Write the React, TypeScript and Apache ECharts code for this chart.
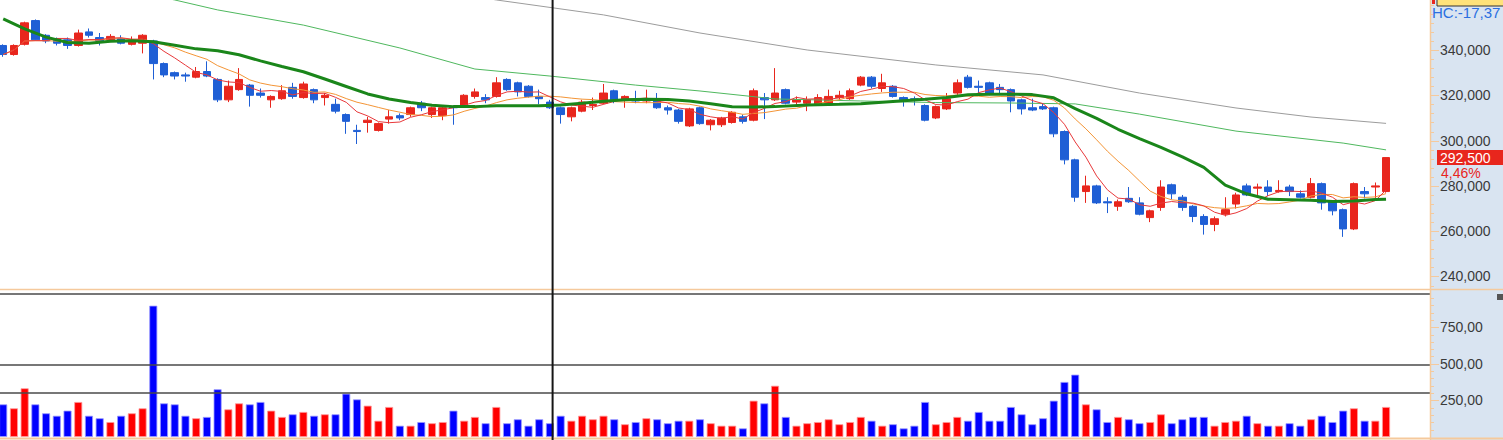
import React, { useEffect, useRef } from "react";
import * as echarts from "echarts";

// ---- price data (one entry per trading day) ----
const opens = [
  342000, 338000, 342500, 353000, 346500, 345000, 344500, 342000, 348000, 345500,
  344500, 345000, 342500, 343000, 344000, 334000, 330000, 329000, 328000, 330500,
  327000, 318000, 322500, 324500, 321000, 318000, 318500, 323500, 319000, 322500,
  319000, 316000, 311500, 304500, 308000, 304500, 309500, 311000, 311500, 316500,
  311500, 311000, 315000, 315000, 319500, 319000, 319500, 327000, 325500, 324000,
  319500, 317000, 314500, 310500, 313000, 315500, 316500, 322000, 318000, 318000,
  317500, 318000, 314500, 313500, 306500, 314500, 307000, 307000, 308000, 310500,
  309000, 319000, 318000, 322500, 317000, 316500, 316000, 316500, 319000, 318500,
  324500, 328000, 323000, 324000, 319000, 318500, 315500, 310000, 314000, 321000,
  328000, 324000, 325500, 323500, 322500, 318000, 314500, 315000, 314500, 304000,
  291500, 277500, 280000, 273000, 271000, 274500, 272500, 266000, 270500, 280500,
  275000, 271000, 266500, 263000, 267500, 272000, 280000, 279000, 279500, 277500,
  279500, 276500, 275000, 281000, 273000, 269500, 261000, 277500, 279500, 277500,
];
const closes = [
  338000, 342000, 352000, 344500, 344000, 343000, 342000, 347500, 346500, 344000,
  346000, 343000, 344500, 346500, 334000, 329000, 328500, 328500, 330500, 328500,
  318000, 324000, 327000, 320000, 320000, 319500, 322000, 319500, 325000, 318000,
  320000, 313000, 308500, 304000, 309000, 307500, 310500, 310000, 314500, 314500,
  314500, 314500, 314500, 320000, 321500, 318000, 325500, 322500, 321500, 319500,
  318500, 314500, 311500, 314500, 317000, 316000, 321000, 318000, 319500, 317500,
  318000, 314500, 313500, 308500, 314000, 307500, 309000, 310000, 312500, 308500,
  322000, 318000, 321000, 316500, 318000, 318000, 319000, 319500, 320000, 322000,
  328000, 324000, 325500, 319500, 318000, 318000, 309000, 315000, 318500, 325500,
  323500, 323500, 321000, 322500, 317500, 314000, 313500, 314000, 303000, 291500,
  275000, 280000, 272500, 272500, 273000, 273000, 267500, 269000, 279500, 276500,
  270500, 266500, 263000, 265500, 269500, 276000, 276000, 279500, 277500, 278000,
  277500, 275000, 281000, 272500, 269000, 261000, 281000, 276500, 280000, 292500,
];
const lows = [
  337000, 337500, 342000, 344000, 343000, 342000, 340500, 341500, 345500, 342000,
  343500, 342500, 342000, 338500, 327000, 328000, 327000, 326000, 327500, 328000,
  317000, 317000, 322000, 315000, 319000, 314500, 318000, 318500, 318500, 316500,
  315500, 312000, 303000, 298500, 303500, 304000, 307500, 309000, 310500, 313000,
  310000, 309000, 307000, 314500, 318500, 316500, 319000, 322000, 319500, 319000,
  316000, 314000, 307500, 308500, 312500, 313500, 316000, 316500, 314500, 316500,
  316500, 314000, 311500, 307500, 306000, 307000, 304500, 306000, 307500, 307500,
  308500, 309500, 317500, 316000, 315000, 313000, 315500, 316000, 318000, 318000,
  324000, 323000, 321500, 319000, 315000, 315500, 308500, 309500, 313500, 320000,
  323000, 321000, 320000, 320500, 312500, 311500, 313000, 313500, 301500, 289500,
  273000, 272500, 272000, 268000, 269000, 272500, 267000, 264000, 269000, 274000,
  269000, 264000, 258500, 260000, 266500, 270000, 275500, 276000, 275500, 277000,
  275500, 274500, 274500, 269500, 267000, 257500, 260500, 274500, 274500, 277000,
];
const highs = [
  342500, 342500, 352500, 353500, 347000, 345500, 345500, 349000, 349500, 347500,
  347000, 346500, 346000, 347000, 344500, 334500, 330500, 330000, 332500, 335000,
  327500, 326500, 332000, 325000, 323000, 320000, 324500, 325500, 326000, 323000,
  321000, 318500, 312000, 307000, 310500, 308000, 313500, 312000, 315000, 317500,
  315000, 315000, 315500, 320500, 323000, 320500, 328000, 327500, 326000, 324500,
  322500, 318000, 315000, 315000, 318000, 319000, 325000, 322500, 320000, 322000,
  322500, 321000, 315500, 314000, 314500, 315000, 309500, 310500, 313000, 311500,
  323000, 321000, 332000, 323000, 319500, 319500, 320500, 322500, 322000, 323000,
  328500, 328500, 329500, 324500, 319500, 319500, 316000, 315500, 321000, 327000,
  329000, 326500, 326000, 325000, 323000, 318500, 318500, 316500, 315000, 304500,
  292000, 284500, 280500, 275000, 274000, 279500, 275000, 269500, 282500, 281000,
  276000, 271500, 267500, 266500, 275000, 277000, 281000, 281000, 282500, 282500,
  280500, 278000, 283500, 281500, 273500, 270000, 281500, 279500, 281500, 292500,
];
const volumes = [
  223, 196, 333, 223, 162, 145, 180, 239, 145, 128,
  102, 145, 162, 196, 897, 230, 223, 145, 128, 137,
  326, 189, 230, 223, 239, 180, 137, 155, 171, 145,
  155, 155, 296, 257, 214, 111, 205, 77, 77, 102,
  94, 102, 180, 111, 137, 94, 205, 94, 121, 77,
  121, 94, 145, 111, 145, 121, 145, 121, 87, 102,
  128, 121, 94, 111, 111, 121, 94, 77, 77, 59,
  248, 230, 350, 137, 77, 94, 102, 121, 87, 102,
  137, 111, 77, 87, 59, 77, 239, 87, 102, 137,
  111, 171, 111, 111, 205, 155, 87, 128, 248, 376,
  426, 223, 189, 102, 137, 121, 94, 102, 155, 94,
  121, 137, 137, 77, 102, 111, 145, 94, 77, 77,
  94, 77, 121, 145, 102, 180, 196, 111, 111, 205,
];

// moving averages: [day index, price]
const ma20Points: [number, number][] = [
  [0, 353700], [2, 349300], [4, 345700], [6, 343300], [8, 343000], [10, 343900],
  [12, 344100], [14, 343600], [16, 342100], [18, 340500], [20, 339700], [22, 337900],
  [24, 335200], [26, 332700], [28, 330400], [30, 327200], [32, 323900], [34, 320600],
  [36, 318400], [38, 316800], [40, 315600], [42, 315000], [44, 315000], [46, 315400],
  [50, 315400], [52, 315700], [54, 316500], [56, 317400], [58, 318000], [60, 318300],
  [62, 318100], [64, 317500], [66, 316300], [68, 314900], [70, 314800], [72, 315000],
  [75, 315700], [78, 316000], [80, 316300], [83, 317300], [86, 318300], [88, 319000],
  [90, 320200], [92, 320500], [94, 320500], [96, 320300], [98, 318900], [99, 316500],
  [100, 314100], [102, 309800], [104, 305000], [106, 300900], [108, 297000], [110, 292800],
  [112, 288200], [114, 280300], [116, 276500], [118, 274100], [120, 273900], [122, 273700],
  [124, 273100], [126, 273300], [128, 274000], [129, 274100],
];
const ma60Points: [number, number][] = [
  [0, 376600], [16, 362100], [20, 357700], [28, 351000], [37, 340900], [44, 331600],
  [51, 328500], [59, 324500], [65, 321900], [72, 318400], [80, 317500], [87, 316800],
  [94, 316600], [100, 316200], [106, 311700], [115, 304200], [125, 298900], [129, 295900],
];
const ma120Points: [number, number][] = [
  [0, 397400], [46, 362100], [56, 355500], [65, 347500], [75, 340000], [87, 333400],
  [97, 329000], [106, 321000], [115, 314400], [122, 310400], [129, 307600],
];

const priceTicks = [240000, 260000, 280000, 300000, 320000, 340000];
const priceMinorStep = 4000;
const volumeTicks = [250, 500, 750];
const volumeMinorStep = 50;
const volumeGuides = [300, 492];
const cursorIndex = 51.25;
const lastClose = 292500;
const lastChangeText = "4,46%";
const headerText = "HC:-17,37";

const RED = "#e8261d";
const BLUE = "#1f5fd5";
const VOL_RED = "#ff0000";
const VOL_BLUE = "#0000ff";
const PEACH = "#f5c99c";
const PANEL = "#d9e4f1";
const FONT = "'Liberation Sans', Arial, sans-serif";

const PRICE_MIN = 234480;
const PRICE_MAX = 362075;
const VOL_MAX = 977;
const X_MIN = -0.3;
const X_MAX = 133.1;

function movingAverage(n: number): [number, number][] {
  return closes.map((_, i) => {
    const s = Math.max(0, i - n + 1);
    let sum = 0;
    for (let k = s; k <= i; k++) sum += closes[k];
    return [i, sum / (i - s + 1)];
  });
}

const fmtPrice = (v: number) => Math.round(v).toLocaleString("en-US");
const fmtVol = (v: number) => v.toFixed(2).replace(".", ",");

export default function App() {
  const ref = useRef<HTMLDivElement>(null);
  useEffect(() => {
    const chart = echarts.init(ref.current!, undefined, { renderer: "svg" });
    const candleData = opens.map((o, i) => [i, o, closes[i], lows[i], highs[i]]);
    const volData = volumes.map((v, i) => {
      const up = closes[i] >= opens[i];
      return {
        value: [i, v],
        itemStyle: {
          color: up ? VOL_RED : VOL_BLUE,
          borderColor: up ? "#ff9a9a" : "#9a9aff",
          borderWidth: 0.8,
        },
      };
    });
    const lineSeries = (data: [number, number][], color: string, width: number, z: number) => ({
      type: "line",
      xAxisIndex: 0,
      yAxisIndex: 0,
      data,
      symbol: "none",
      showSymbol: false,
      silent: true,
      clip: true,
      z,
      lineStyle: { color, width },
    });
    const yAxisBase = {
      type: "value",
      position: "right",
      splitLine: { show: false },
      axisLine: { show: false, onZero: false },
      axisTick: { show: false },
    };
    chart.setOption({
      animation: false,
      backgroundColor: "#ffffff",
      grid: [
        { left: 0, top: 0, width: 1430, height: 289 },
        { left: 0, top: 294, width: 1430, height: 143 },
      ],
      xAxis: [
        { type: "value", gridIndex: 0, min: X_MIN, max: X_MAX, show: false },
        { type: "value", gridIndex: 1, min: X_MIN, max: X_MAX, show: false },
      ],
      yAxis: [
        {
          ...yAxisBase,
          gridIndex: 0,
          min: PRICE_MIN,
          max: PRICE_MAX,
          axisLabel: {
            customValues: priceTicks,
            formatter: (v: number) => fmtPrice(v),
            color: "#3a3a3a",
            fontSize: 14,
            fontFamily: FONT,
            margin: 10,
          },
        },
        {
          ...yAxisBase,
          gridIndex: 1,
          min: 0,
          max: VOL_MAX,
          axisLabel: {
            customValues: volumeTicks,
            formatter: (v: number) => fmtVol(v),
            color: "#3a3a3a",
            fontSize: 14,
            fontFamily: FONT,
            margin: 10,
          },
        },
      ],
      series: [
        {
          type: "candlestick",
          xAxisIndex: 0,
          yAxisIndex: 0,
          data: candleData,
          barWidth: 8,
          z: 2,
          silent: true,
          itemStyle: {
            color: RED,
            color0: BLUE,
            borderColor: RED,
            borderColor0: BLUE,
            borderWidth: 1,
          },
        },
        lineSeries(ma120Points, "#9c9c9c", 1, 3),
        lineSeries(ma60Points, "#4fb85e", 1, 3),
        lineSeries(movingAverage(10), "#f49536", 1, 4),
        lineSeries(movingAverage(5), "#e8383a", 1, 4),
        lineSeries(ma20Points, "#1a861a", 3, 5),
        {
          type: "bar",
          xAxisIndex: 1,
          yAxisIndex: 1,
          data: volData,
          barWidth: 8,
          silent: true,
          markLine: {
            symbol: "none",
            silent: true,
            label: { show: false },
            lineStyle: { color: "#4a4a4a", width: 1.5, type: "solid" },
            data: [...volumeGuides, VOL_MAX].map((v) => ({ yAxis: v })),
          },
        },
      ],
    });

    const xCursor = chart.convertToPixel({ xAxisIndex: 0 }, cursorIndex) as number;
    const yTag = chart.convertToPixel({ yAxisIndex: 0 }, lastClose) as number;

    // axis tick marks on the left edge of the scale panel
    const ticks: any[] = [];
    const addTicks = (axisIndex: number, lo: number, hi: number, step: number, majors: number[]) => {
      const start = Math.ceil(lo / step) * step;
      for (let v = start; v <= hi; v += step) {
        const y = Math.round(chart.convertToPixel({ yAxisIndex: axisIndex }, v) as number) + 0.5;
        const major = majors.includes(v);
        ticks.push({
          type: "line",
          z: 11,
          silent: true,
          shape: { x1: 1430, y1: y, x2: 1430 + (major ? 9 : 4), y2: y },
          style: { stroke: PEACH, lineWidth: 1 },
        });
      }
    };
    addTicks(0, PRICE_MIN + 1000, PRICE_MAX - 1000, priceMinorStep, priceTicks);
    addTicks(1, volumeMinorStep, VOL_MAX - 10, volumeMinorStep, volumeTicks);

    chart.setOption({
      graphic: [
        { type: "rect", z: -10, silent: true, shape: { x: 1430, y: 0, width: 73, height: 440 }, style: { fill: PANEL } },
        { type: "line", z: 10, silent: true, shape: { x1: 1430.5, y1: 0, x2: 1430.5, y2: 440 }, style: { stroke: PEACH, lineWidth: 1.5 } },
        { type: "line", z: 10, silent: true, shape: { x1: 0, y1: 289.5, x2: 1503, y2: 289.5 }, style: { stroke: PEACH, lineWidth: 1.5 } },
        { type: "line", z: 10, silent: true, shape: { x1: 0, y1: 438.5, x2: 1503, y2: 438.5 }, style: { stroke: PEACH, lineWidth: 2 } },
        ...ticks,
        { type: "line", z: 20, silent: true, shape: { x1: xCursor, y1: 0, x2: xCursor, y2: 440 }, style: { stroke: "#151515", lineWidth: 2 } },
        { type: "rect", z: 20, silent: true, shape: { x: 1437, y: yTag - 7.5, width: 66, height: 15 }, style: { fill: RED } },
        { type: "text", z: 21, silent: true, x: 1440, y: yTag, style: { text: fmtPrice(lastClose), fill: "#ffffff", font: `14px ${FONT}`, verticalAlign: "middle" } },
        { type: "text", z: 21, silent: true, x: 1441, y: yTag + 15, style: { text: lastChangeText, fill: RED, font: `14px ${FONT}`, verticalAlign: "middle", backgroundColor: PANEL, padding: [0, 8, 0, 0] } },
        { type: "rect", z: 20, silent: true, shape: { x: 1437, y: -9, width: 70, height: 15 }, style: { fill: "#ffe27a", stroke: "#333", lineWidth: 1 } },
        { type: "rect", z: 20, silent: true, shape: { x: 1432, y: 0, width: 3, height: 4 }, style: { fill: RED } },
        { type: "text", z: 21, silent: true, x: 1432, y: 12, style: { text: headerText, fill: "#2b6fe0", font: `15px ${FONT}`, verticalAlign: "middle" } },
        { type: "rect", z: 20, silent: true, shape: { x: 1497, y: 294, width: 6, height: 6 }, style: { fill: "#555555" } },
      ],
    });
    return () => chart.dispose();
  }, []);
  return <div ref={ref} style={{ position: "absolute", left: 0, top: 0, width: 1503, height: 440 }} />;
}
